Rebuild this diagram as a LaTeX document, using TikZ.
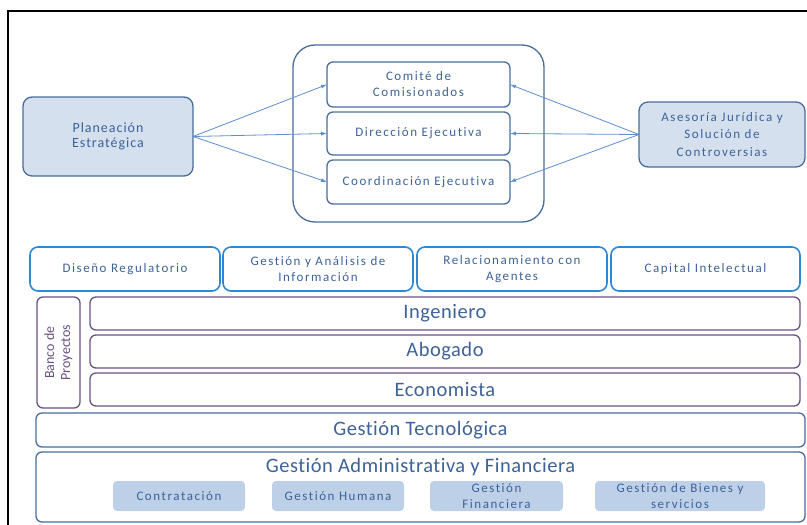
\documentclass[tikz,border=0pt]{standalone}
\usepackage{fontspec}
\setmainfont{Carlito}[Ligatures=NoCommon]
\newfontfamily\smallf[LetterSpace=12,Ligatures=NoCommon]{Carlito}
\newfontfamily\sidef[LetterSpace=7,Ligatures=NoCommon]{Carlito}
\newfontfamily\bigf[LetterSpace=2.5,Ligatures=NoCommon]{Carlito}
\usepackage{xcolor}
\usetikzlibrary{positioning,arrows.meta}
\definecolor{txtblue}{HTML}{3D6298}
\definecolor{lightfill}{HTML}{D5E0EE}
\definecolor{subfill}{HTML}{BDD0E8}
\definecolor{darkline}{HTML}{4A6C9C}
\definecolor{rowline}{HTML}{2F87D2}
\definecolor{purpline}{HTML}{6A5282}
\definecolor{arrline}{HTML}{5E8DD0}
\tikzstyle{bx}=[draw=darkline, line width=1.3pt, rounded corners=6pt, inner sep=0, outer sep=0,
	align=center, text=txtblue, font=\smallf\fontsize{13}{16}\selectfont]
\tikzstyle{side}=[bx, fill=lightfill, rounded corners=9pt]
\tikzstyle{rowbx}=[bx, draw=rowline, line width=1.6pt, rounded corners=8pt, minimum height=44pt]
\tikzstyle{prof}=[bx, draw=purpline, minimum width=710pt, minimum height=33pt,
	font=\bigf\fontsize{20.5}{22}\selectfont]
\tikzstyle{wide}=[bx, minimum width=769pt, font=\bigf\fontsize{20.5}{22}\selectfont]
\tikzstyle{sub}=[bx, draw=none, fill=subfill, rounded corners=4pt, minimum height=30pt]
\tikzstyle{arr}=[draw=arrline, line width=0.8pt, -{Latex[length=6pt,width=4pt]}]

\begin{document}
\begin{tikzpicture}[x=1pt, y=-1pt]
	\useasboundingbox (0,0) rectangle (807,525);
	% frame
	\draw[black, line width=1.6pt] (807,11) -- (8,11) -- (8,525);
	% direction
	\node[bx, rounded corners=22pt, minimum width=251pt, minimum height=177pt] (cont) at (418.5,133.5) {};
	\node[bx, minimum width=183pt, minimum height=45pt] (com) at (418.5,84.5) {Comité de\\Comisionados};
	\node[bx, minimum width=183pt, minimum height=43pt, below=5pt of com] (dir) {Dirección Ejecutiva};
	\node[bx, minimum width=183pt, minimum height=44pt, below=5pt of dir] (coord) {Coordinación Ejecutiva};
	\node[side, minimum width=170pt, minimum height=79pt, font=\sidef\fontsize{14}{15.5}\selectfont] (plan) at (108,136.5) {Planeación\\Estratégica};
	\node[side, minimum width=166pt, minimum height=65pt, font=\smallf\fontsize{13}{17.5}\selectfont] (ases) at (722,134.5) {Asesoría Jurídica y\\Solución de\\Controversias};
	\foreach \t in {com,dir,coord}{
		\draw[arr] (plan.east) -- (\t.west);
		\draw[arr] (ases.west) -- (\t.east);
	}
	% processes
	\node[rowbx, minimum width=190pt] (dis) at (125,269) {Diseño Regulatorio};
	\node[rowbx, minimum width=190pt, right=3pt of dis] (gai) {Gestión y Análisis de\\Información};
	\node[rowbx, minimum width=190pt, right=4pt of gai] (rel) {Relacionamiento con\\Agentes};
	\node[rowbx, minimum width=189pt, right=4pt of rel] (capi) {Capital Intelectual};
	% projects
	\node[bx, draw=purpline, minimum width=43pt, minimum height=111pt] (banco) at (58.5,352.5) {};
	\node[rotate=90, align=center, text=purpline, font=\fontsize{14}{16}\selectfont] (bancotxt) at (banco.center) {Banco de\\Proyectos};
	\node[prof] (ing) at (445,313.5) {Ingeniero};
	\node[prof, below=5pt of ing] (abo) {Abogado};
	\node[prof, below=5pt of abo] (eco) {Economista};
	% support
	\node[wide, minimum height=34pt] (tec) at (420.5,430) {Gestión Tecnológica};
	\node[wide, minimum height=70pt] (adm) at (420.5,487) {};
	\node[below=3pt of adm.north, text=txtblue, font=\bigf\fontsize{20.5}{22}\selectfont] (admtxt) {Gestión Administrativa y Financiera};
	\node[sub, minimum width=132pt] (con) at (179,496) {Contratación};
	\node[sub, minimum width=132pt] (hum) at (338,496) {Gestión Humana};
	\node[sub, minimum width=133pt] (fin) at (496.5,496) {Gestión\\Financiera};
	\node[sub, minimum width=170pt] (bie) at (680,496) {Gestión de Bienes y\\servicios};
\end{tikzpicture}
\end{document}
